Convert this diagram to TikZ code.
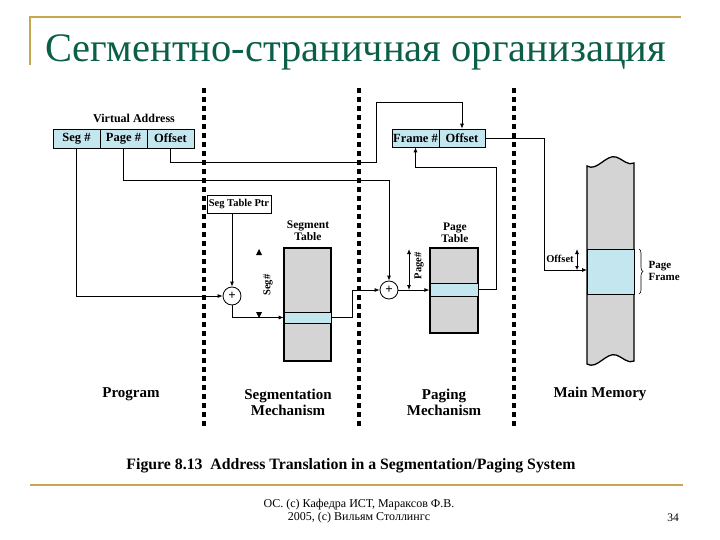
\documentclass[tikz,border=0pt]{standalone}
\usepackage{fontspec}
\setmainfont{Liberation Serif}
\usetikzlibrary{arrows.meta,decorations.pathreplacing}
\definecolor{gold}{HTML}{C8A54F}
\definecolor{titlegreen}{HTML}{0B5F48}
\definecolor{lblue}{HTML}{C4E6EF}
\definecolor{tgray}{HTML}{D4D4D4}
\tikzset{
  lbl/.style={font=\bfseries\fontsize{15}{16}\selectfont, align=center},
  small/.style={font=\bfseries\fontsize{11.5}{12}\selectfont, align=center},
  fld/.style={draw, fill=lblue, minimum height=19pt, inner sep=0pt, line width=0.6pt, font=\bfseries\fontsize{12.5}{13}\selectfont},
  conn/.style={line width=0.8pt},
  arr/.style={conn, -{Latex[length=5pt,width=4pt]}},
  sep/.style={line width=4pt, dash pattern=on 5pt off 4pt},
  tbl/.style={draw, line width=1.3pt, fill=tgray, inner sep=0pt},
  entry/.style={draw, line width=0.6pt, fill=lblue, inner sep=0pt},
  sumnode/.style={draw, circle, minimum size=18pt, inner sep=0pt, line width=0.8pt, font=\bfseries\fontsize{13}{13}\selectfont},
}
\begin{document}
\begin{tikzpicture}[x=1pt,y=-1pt]
\useasboundingbox (0,0) rectangle (720,540);
\fill[white] (0,0) rectangle (720,540);
% frame lines
\draw[gold, line width=1.5pt] (30,65) -- (30,17) -- (681,17);
\draw[gold, line width=2pt] (30,485) -- (683,485);
\node[anchor=base west, inner sep=0pt, text=titlegreen, font=\fontsize{40.5}{42}\selectfont] (title) at (45,62) {Сегментно-страничная организация};
% separators
\draw[sep] (204,88) -- (204,428);
\draw[sep] (359,88) -- (359,428);
\draw[sep] (514,88) -- (514,428);
% virtual address
\node[font=\bfseries\fontsize{12}{13}\selectfont] (va) at (134,118) {Virtual Address};
\node[fld, minimum width=47pt] (seg) at (76.5,138.5) {Seg \#};
\node[fld, minimum width=47pt] (page) at (123.5,138.5) {Page \#};
\node[fld, minimum width=47pt] (off) at (170.5,138.5) {Offset};
% physical address
\node[fld, minimum width=47pt, minimum height=18pt] (frame) at (415.5,138) {Frame \#};
\node[fld, minimum width=46pt, minimum height=18pt] (poff) at (462,138) {Offset};
% seg table ptr
\node[draw, line width=0.6pt, fill=white, minimum width=64pt, minimum height=18pt, inner sep=0pt, font=\bfseries\fontsize{10.5}{11}\selectfont] (segptr) at (239,204) {Seg Table Ptr};
% adders
\node[sumnode] (sum1) at (232,296) {+};
\node[sumnode] (sum2) at (389,290) {+};
% segment table
\node[tbl, minimum width=47pt, minimum height=113pt] (segtab) at (307.5,304.5) {};
\node[entry, minimum width=47pt, minimum height=11pt] (segent) at (307.5,317.5) {};
\node[small] (segtl) at (308,231) {Segment\\Table};
% page table
\node[tbl, minimum width=48pt, minimum height=85pt] (pagtab) at (454,290.5) {};
\node[entry, minimum width=48pt, minimum height=13pt] (pagent) at (454,289.5) {};
\node[small] (pagtl) at (455,233) {Page\\Table};
% main memory
\filldraw[fill=tgray, line width=1.3pt]
  (587,166) .. controls (597,172) and (606,154) .. (616,157)
  .. controls (624,160) and (628,166) .. (634,163)
  -- (634,361)
  .. controls (628,364) and (624,358) .. (616,355)
  .. controls (606,352) and (597,370) .. (587,364) -- cycle;
\node[entry, line width=1pt, minimum width=47pt, minimum height=45pt] (mframe) at (610.5,271.5) {};
\draw[line width=0.6pt, decorate, decoration={brace, amplitude=4pt}] (639,249) -- (639,294);
\node[font=\bfseries\fontsize{11}{12.5}\selectfont, align=left, anchor=west] (pflbl) at (645,271) {Page\\Frame};
% connectors
\coordinate (pgturn) at (389,180);
\coordinate (offa) at (376,162);
\coordinate (offb) at (376,102);
\coordinate (segturn) at (352,317.5);
\coordinate (pgup) at (496,167);
\coordinate (moff) at (544,270);
\coordinate (mleft) at (587,270);
\draw[arr] (seg.south) |- (sum1.west);
\draw[arr] (page.south) |- (pgturn) -- (sum2.north);
\draw[arr] (off.south) |- (offa) -- (offb) -| (poff.north);
\draw[arr] (segptr.south -| sum1) -- (sum1.north);
\draw[arr] (sum1.south) |- (segent.west);
\draw[arr] (segent.east) -- (segturn) |- (sum2.west);
\draw[arr] (sum2.east) -- (sum2.east -| pagtab.west);
\draw[arr] (pagent.east) -| (pgup) -| (frame.south);
\draw[arr] (poff.east) -| (moff) -- (mleft);
% seg# marker
\fill (259,249) -- (256,255) -- (262,255) -- cycle;
\fill (259,318) -- (256,312) -- (262,312) -- cycle;
\node[rotate=90, font=\bfseries\fontsize{10.5}{11}\selectfont] (seglbl) at (268,285) {Seg\#};
% page# marker
\draw[conn, {Latex[length=5pt,width=4pt]}-{Latex[length=5pt,width=4pt]}] (409,249) -- (409,290);
\node[rotate=90, font=\bfseries\fontsize{10.5}{11}\selectfont] (pglbl) at (419,266) {Page\#};
% memory offset marker
\draw[conn, {Latex[length=5pt,width=4pt]}-{Latex[length=4pt,width=4pt]}] (577,249) -- (577,270);
\node[font=\bfseries\fontsize{10.5}{11}\selectfont] (moffl) at (560,259) {Offset};
% column labels
\node[lbl] (prog) at (131,394) {Program};
\node[lbl, anchor=north] (segm) at (288,386) {Segmentation\\Mechanism};
\node[lbl, anchor=north] (pagm) at (444,386) {Paging\\Mechanism};
\node[lbl] (mm) at (600,394) {Main Memory};
% caption
\node[font=\bfseries\fontsize{15.8}{17}\selectfont] (cap) at (351,466) {Figure 8.13\enspace Address Translation in a Segmentation/Paging System};
% footer
\node[font=\fontsize{12}{13}\selectfont, align=center] (foot) at (359,511) {ОС. (с) Кафедра ИСТ, Мараксов Ф.В.\\2005, (с) Вильям Столлингс};
\node[font=\fontsize{11.5}{13}\selectfont] (pnum) at (673,518) {34};
\end{tikzpicture}
\end{document}
